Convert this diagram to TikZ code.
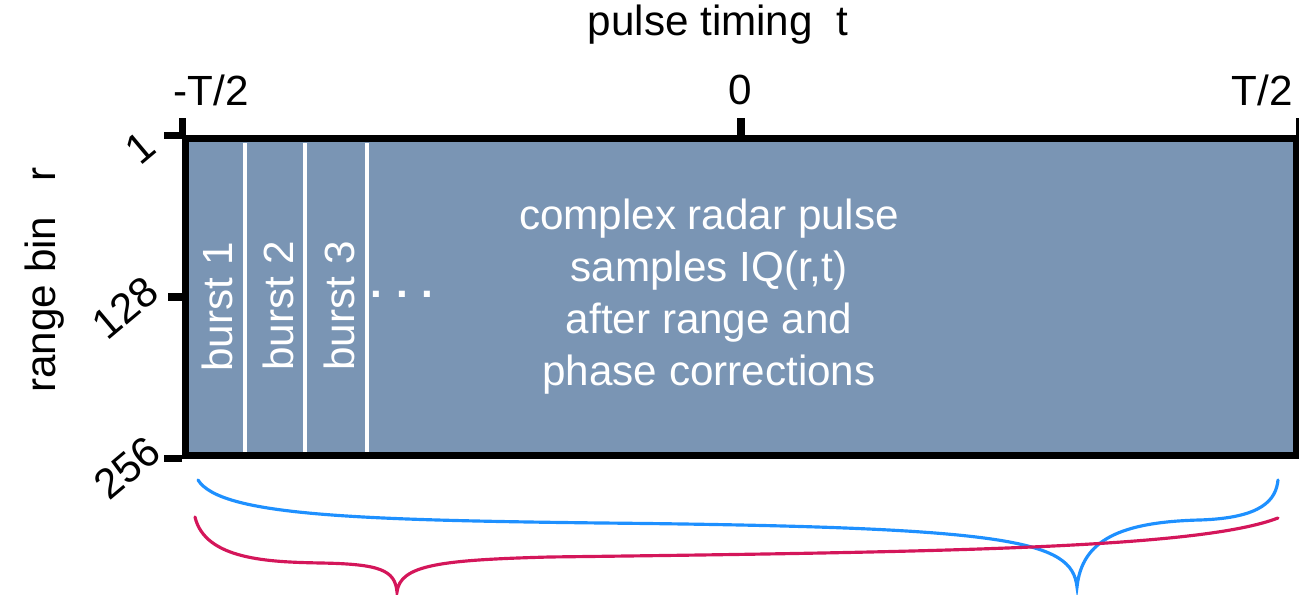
\documentclass[tikz,border=0pt]{standalone}
\usepackage{fontspec}
\setmainfont{Liberation Sans}
\definecolor{panelfill}{RGB}{122,149,180}
\definecolor{braceblue}{RGB}{30,144,255}
\definecolor{bracered}{RGB}{212,22,90}

\begin{document}
\begin{tikzpicture}[
        x=0.01cm, y=-0.01cm,
        lbl/.style={font=\fontsize{12}{14.8}\selectfont, inner sep=0pt},
        panel/.style={rectangle, draw, line width=2pt, fill=panelfill, minimum width=11.1cm, minimum height=3.16cm, inner sep=0pt},
        axis/.style={line width=2pt},
        divider/.style={draw=white, line width=0.9pt},
        burstlbl/.style={lbl, text=white, rotate=90},
        curly/.style={line width=0.9pt, line cap=round}
    ]
        \useasboundingbox (0,0) rectangle (1299,595);

        \node [panel] (panel) at (741,297) {};

        % ticks
        \draw [axis] (panel.north west) -- ++(0,-17);
        \draw [axis] (panel.north) -- ++(0,-17);
        \draw [axis] (panel.north east) -- ++(0,-17);
        \draw [axis] (panel.north west) -- ++(-18,0);
        \draw [axis] (panel.west) -- ++(-14,0);
        \draw [axis] (panel.south west) -- ++(-18,0);

        % bursts
        \draw [divider] (245,143) -- (245,452);
        \draw [divider] (305,143) -- (305,452);
        \draw [divider] (367,143) -- (367,452);
        \node [burstlbl] (b1) at (217,307) {burst 1};
        \node [burstlbl] (b2) at (278,306) {burst 2};
        \node [burstlbl] (b3) at (339,306) {burst 3};
        \node [lbl, text=white] (dots) at (402,294) {\textbf{.\,\,.\,\,.}};

        \node [lbl, text=white, align=center] (desc) at (709,297) {complex radar pulse\\samples IQ(r,t)\\after range and\\phase corrections};

        % axis labels
        \node [lbl] (ttl) at (718,25) {pulse timing~~t};
        \node [lbl] (tl) at (211,90) {-T/2};
        \node [lbl] (tm) at (740,90) {0};
        \node [lbl] (tr) at (1262,90) {T/2};
        \node [lbl, rotate=90] (rl) at (45,280) {range bin~~~r};
        \node [lbl, rotate=40] (r1) at (140,148) {1};
        \node [lbl, rotate=40] (r128) at (125,308) {128};
        \node [lbl, rotate=40] (r256) at (127,468) {256};

        % braces
        \draw [curly, braceblue] (198,480) .. controls (220,515) and (350,520) .. (600,523)
            .. controls (1010,527) and (1072,540) .. (1077,587)
            .. controls (1082,540) and (1120,522) .. (1200,520)
            .. controls (1262,518) and (1276,500) .. (1278,480);
        \draw [curly, bracered] (195,517) .. controls (205,560) and (270,562) .. (320,563)
            .. controls (380,564) and (395,570) .. (397,592)
            .. controls (400,565) and (440,560) .. (550,557)
            .. controls (950,552) and (1200,548) .. (1278,518);
    \end{tikzpicture}
\end{document}
